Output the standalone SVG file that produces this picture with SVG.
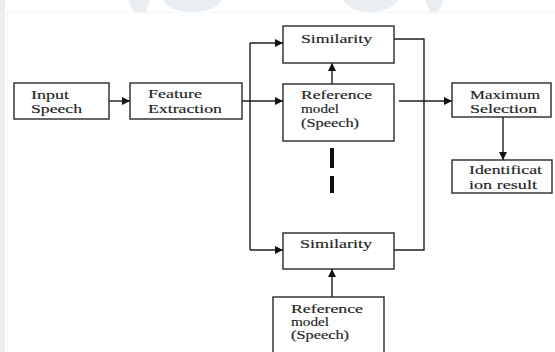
<svg xmlns="http://www.w3.org/2000/svg" width="555" height="352" viewBox="0 0 555 352">
<style>
.box{fill:#fff;stroke:#2a2a2a;stroke-width:1.4}
.lbl{font-family:'Liberation Serif',serif;font-size:12.5px;fill:#1e1e1e;stroke:#1e1e1e;stroke-width:0.15}
.con{fill:none;stroke:#1e1e1e;stroke-width:1.4}
.wm{fill:#e9eef2}
</style>
<defs>
<marker id="ah" viewBox="0 0 10 10" refX="10" refY="5" markerWidth="9" markerHeight="8" markerUnits="userSpaceOnUse" orient="auto">
<path d="M0,0 L10,5 L0,10 z" fill="#111"/>
</marker>
</defs>
<rect width="555" height="352" fill="#fff"/>
<g id="watermark">
<rect class="wm" x="0" y="0" width="5" height="352"/>
<rect x="7" y="13" width="1" height="339" fill="#f1f4f6"/>
<path class="wm" d="M128,0 H150 L146,12 H134 Z"/>
<path class="wm" d="M163,0 H222 Q214,12 192,12 Q170,12 163,0 Z"/>
<path class="wm" d="M343,0 H398 Q390,12 370,12 Q350,12 343,0 Z"/>
<path class="wm" d="M425,0 H444 L438,12 H430 Z"/>
<rect x="0" y="12" width="555" height="1" fill="#f3f5f7"/>
</g>
<g id="connectors">
<path class="con" d="M109,101 H130" marker-end="url(#ah)"/>
<path class="con" d="M242,101 H283" marker-end="url(#ah)"/>
<path class="con" d="M250,43 V250"/>
<path class="con" d="M250,43 H283" marker-end="url(#ah)"/>
<path class="con" d="M250,250 H283" marker-end="url(#ah)"/>
<path class="con" d="M332,84 V63" marker-end="url(#ah)"/>
<path class="con" d="M394,39 H424 V250 H394"/>
<path class="con" d="M399,101 H452" marker-end="url(#ah)"/>
<path class="con" d="M503,117 V160" marker-end="url(#ah)"/>
<path class="con" d="M332,297 V269" marker-end="url(#ah)"/>
<path d="M332,148 V168 M332,176 V193" stroke="#111" stroke-width="4" fill="none"/>
</g>
<g id="input-speech">
<rect class="box" x="14" y="83" width="95" height="36"/>
<text class="lbl" x="31" y="99" textLength="38" lengthAdjust="spacingAndGlyphs">Input</text>
<text class="lbl" x="31" y="113" textLength="51" lengthAdjust="spacingAndGlyphs">Speech</text>
</g>
<g id="feature-extraction">
<rect class="box" x="130" y="83" width="112" height="36"/>
<text class="lbl" x="148" y="98" textLength="54" lengthAdjust="spacingAndGlyphs">Feature</text>
<text class="lbl" x="148" y="113" textLength="74" lengthAdjust="spacingAndGlyphs">Extraction</text>
</g>
<g id="similarity-1">
<rect class="box" x="283" y="26" width="111" height="37"/>
<text class="lbl" x="301" y="43" textLength="71" lengthAdjust="spacingAndGlyphs">Similarity</text>
</g>
<g id="reference-model-1">
<rect class="box" x="283" y="84" width="111" height="57"/>
<text class="lbl" x="301" y="99" textLength="71" lengthAdjust="spacingAndGlyphs">Reference</text>
<text class="lbl" x="301" y="113" textLength="38" lengthAdjust="spacingAndGlyphs">model</text>
<text class="lbl" x="301" y="127" textLength="58" lengthAdjust="spacingAndGlyphs">(Speech)</text>
</g>
<g id="maximum-selection">
<rect class="box" x="452" y="83" width="99" height="34"/>
<text class="lbl" x="470" y="99" textLength="70" lengthAdjust="spacingAndGlyphs">Maximum</text>
<text class="lbl" x="470" y="113" textLength="67" lengthAdjust="spacingAndGlyphs">Selection</text>
</g>
<g id="identification-result">
<rect class="box" x="452" y="160" width="100" height="33"/>
<text class="lbl" x="469" y="174" textLength="73" lengthAdjust="spacingAndGlyphs">Identificat</text>
<text class="lbl" x="469" y="189" textLength="68" lengthAdjust="spacingAndGlyphs">ion result</text>
</g>
<g id="similarity-2">
<rect class="box" x="283" y="233" width="111" height="36"/>
<text class="lbl" x="300" y="248" textLength="72" lengthAdjust="spacingAndGlyphs">Similarity</text>
</g>
<g id="reference-model-2">
<rect class="box" x="273" y="297" width="111" height="70"/>
<text class="lbl" x="291" y="313" textLength="72" lengthAdjust="spacingAndGlyphs">Reference</text>
<text class="lbl" x="291" y="326" textLength="38" lengthAdjust="spacingAndGlyphs">model</text>
<text class="lbl" x="291" y="339" textLength="58" lengthAdjust="spacingAndGlyphs">(Speech)</text>
</g>
</svg>
